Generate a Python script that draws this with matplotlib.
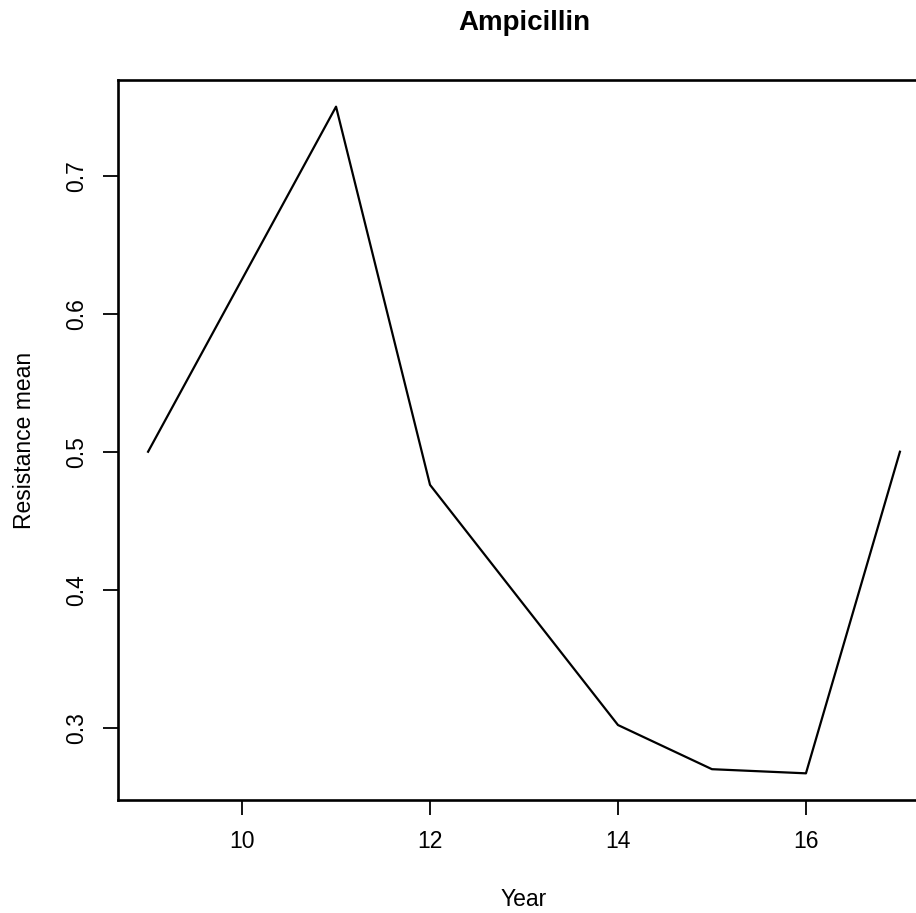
import matplotlib
matplotlib.use("Agg")
import matplotlib.pyplot as plt

# ---------- DATA ----------
years = [9, 11, 12, 14, 15, 16, 17]
resistance_mean = [0.500, 0.750, 0.476, 0.302, 0.270, 0.267, 0.500]
x_ticks = [10, 12, 14, 16]
y_ticks = [0.3, 0.4, 0.5, 0.6, 0.7]

plt.rcParams["font.family"] = ["Liberation Sans", "DejaVu Sans"]

W, H = 916, 913
fig = plt.figure(figsize=(W / 100, H / 100), dpi=100)

# plot region like R's default, running past the right edge of the image
left, right, top, bottom = 118, 930, 80, 800
ax = fig.add_axes([left / W, 1 - bottom / H, (right - left) / W, (bottom - top) / H])

ax.plot(years, resistance_mean, color="black", linewidth=1.6)

# R pads the data range by 4% on each side
xr = max(years) - min(years)
yr = max(resistance_mean) - min(resistance_mean)
ax.set_xlim(min(years) - 0.04 * xr, max(years) + 0.04 * xr)
ax.set_ylim(min(resistance_mean) - 0.04 * yr, max(resistance_mean) + 0.04 * yr)

ax.set_xticks(x_ticks)
ax.set_xticklabels([str(t) for t in x_ticks])
ax.set_yticks(y_ticks)
ax.set_yticklabels([f"{t:g}" for t in y_ticks], rotation=90, va="center")

ax.tick_params(direction="out", length=10.5, width=1.3, labelsize=16.5,
               pad=11, colors="black")
for s in ax.spines.values():
    s.set_linewidth(1.9)
    s.set_color("black")

ax.set_xlabel("Year", fontsize=16.5, labelpad=25)
ax.set_ylabel("Resistance mean", fontsize=16.5, labelpad=21)
ax.set_title("Ampicillin", fontsize=20, fontweight="bold", pad=36)

fig.savefig("out.png", dpi=100, facecolor="white")
